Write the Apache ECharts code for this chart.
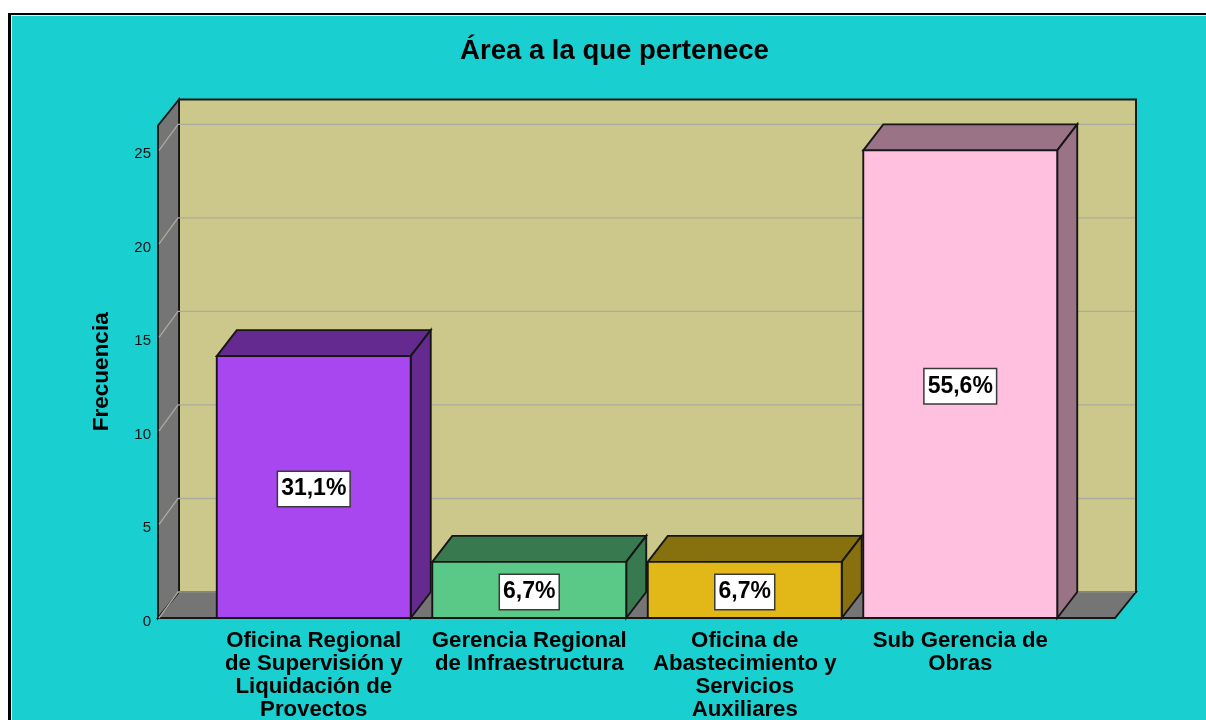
<!DOCTYPE html>
<html><head><meta charset="utf-8">
<style>html,body{margin:0;padding:0;background:#fff;overflow:hidden}#c{width:1206px;height:720px}</style>
<script src="https://cdn.jsdelivr.net/npm/echarts@6/dist/echarts.min.js"></script>
</head><body><div id="c"></div>
<script>
const titleText = 'Área a la que pertenece';
const yName = 'Frecuencia';
const categories = [
  'Oficina Regional\nde Supervisión y\nLiquidación de\nProyectos',
  'Gerencia Regional\nde Infraestructura',
  'Oficina de\nAbastecimiento y\nServicios\nAuxiliares',
  'Sub Gerencia de\nObras'
];
const values = [14, 3, 3, 25];
const percentLabels = ['31,1%', '6,7%', '6,7%', '55,6%'];
const yTicks = [0, 5, 10, 15, 20, 25];
const frontColors = ['#A846F0', '#5AC887', '#E1B817', '#FFC0E0'];
const sideColors = ['#652A90', '#387950', '#87700E', '#9A7386'];
const FONT = '"Liberation Sans", Arial, sans-serif';
const DX = 21, DY = 26, BAR_DX = 20, EDGE = '#161616';

function poly(points, fill, z2, stroke, lw) {
  return { type: 'polygon', shape: { points }, z2: z2,
    style: { fill: fill, stroke: stroke === undefined ? EDGE : stroke, lineWidth: lw || 1.9, lineJoin: 'miter' } };
}
function renderFrame(params, api) {
  const cs = params.coordSys;
  const L = cs.x - 48, R = cs.x + cs.width + 47, T = cs.y, B = cs.y + cs.height;
  const kids = [
    poly([[L + DX, T - DY], [R + DX, T - DY], [R + DX, B - DY], [L + DX, B - DY]], '#CCC88C', 1),
    poly([[L, T], [L + DX, T - DY], [L + DX, B - DY], [L, B]], '#757575', 2),
    poly([[L, B], [L + DX, B - DY], [R + DX, B - DY], [R, B]], '#757575', 2)
  ];
  yTicks.forEach(function (t) {
    const y = api.coord([0, t])[1];
    kids.push({ type: 'polyline', z2: 3,
      shape: { points: [[L + 1, y], [L + DX - 1, y - DY], [R + DX - 1, y - DY]] },
      style: { fill: null, stroke: '#ABABA0', lineWidth: 1.3 } });
  });
  return { type: 'group', children: kids };
}
function renderBar(params, api) {
  const i = api.value(0), v = api.value(1);
  const top = api.coord([i, v]), base = api.coord([i, 0]);
  const hw = api.size([1, 0])[0] * 0.45;
  const x0 = top[0] - hw, x1 = top[0] + hw, yT = top[1], yB = base[1];
  return { type: 'group', children: [
    poly([[x0, yT], [x0 + BAR_DX, yT - DY], [x1 + BAR_DX, yT - DY], [x1, yT]], sideColors[i], 5),
    poly([[x1, yT], [x1 + BAR_DX, yT - DY], [x1 + BAR_DX, yB - DY], [x1, yB]], sideColors[i], 5),
    poly([[x0, yT], [x1, yT], [x1, yB], [x0, yB]], frontColors[i], 6),
    { type: 'text', z2: 10, style: {
        x: top[0], y: (yT + yB) / 2 + 2, text: percentLabels[i], align: 'center', verticalAlign: 'middle',
        fill: '#000', font: 'bold 23px ' + FONT, backgroundColor: '#fff',
        borderColor: '#3a3a3a', borderWidth: 1.5, padding: [6, 3, 5, 3] } }
  ] };
}
const chart = echarts.init(document.getElementById('c'), null, { renderer: 'canvas', width: 1206, height: 720 });
chart.setOption({
  animation: false,
  backgroundColor: '#fff',
  title: { text: titleText, left: 609.5, top: 32, textAlign: 'center',
    textStyle: { fontFamily: FONT, fontWeight: 'bold', fontSize: 27.5, color: '#000' } },
  grid: { left: 206, right: 138, top: 125.5, bottom: 102, outerBoundsMode: 'none' },
  xAxis: { type: 'category', data: categories,
    axisLine: { show: false }, axisTick: { show: false }, splitLine: { show: false },
    axisLabel: { interval: 0, margin: 11, fontFamily: FONT, fontWeight: 'bold', fontSize: 22.2, lineHeight: 23, color: '#000', hideOverlap: false } },
  yAxis: { type: 'value', min: 0, max: 26.33, interval: 5, offset: 48,
    name: yName, nameLocation: 'middle', nameGap: 45,
    nameTextStyle: { fontFamily: FONT, fontWeight: 'bold', fontSize: 22.5, color: '#000' },
    axisLine: { show: false }, axisTick: { show: false }, splitLine: { show: false },
    axisLabel: { margin: 7, showMaxLabel: false, fontFamily: FONT, fontSize: 15, color: '#111', verticalAlign: 'top', lineHeight: 7 } },
  graphic: [
    { type: 'rect', z: -10, silent: true, shape: { x: 8, y: 13, width: 1300, height: 800 }, style: { fill: '#000' } },
    { type: 'rect', z: -9, silent: true, shape: { x: 11, y: 15, width: 1300, height: 800 }, style: { fill: '#D8F4F4' } },
    { type: 'rect', z: -8, silent: true, shape: { x: 12, y: 16, width: 1300, height: 800 }, style: { fill: '#19CFCF' } },
    { type: 'rect', z: 100, silent: true, shape: { x: 12, y: 716, width: 1300, height: 10 }, style: { fill: '#19CFCF' } }
  ],
  series: [
    { type: 'custom', name: 'frame', z: 1, silent: true, clip: false, renderItem: renderFrame, data: [[0, 0]], encode: { x: 0, y: 1 } },
    { type: 'custom', name: 'Frecuencia', z: 3, silent: true, clip: false, renderItem: renderBar,
      data: values.map(function (v, i) { return [i, v]; }), encode: { x: 0, y: 1 } }
  ]
});
</script></body></html>
